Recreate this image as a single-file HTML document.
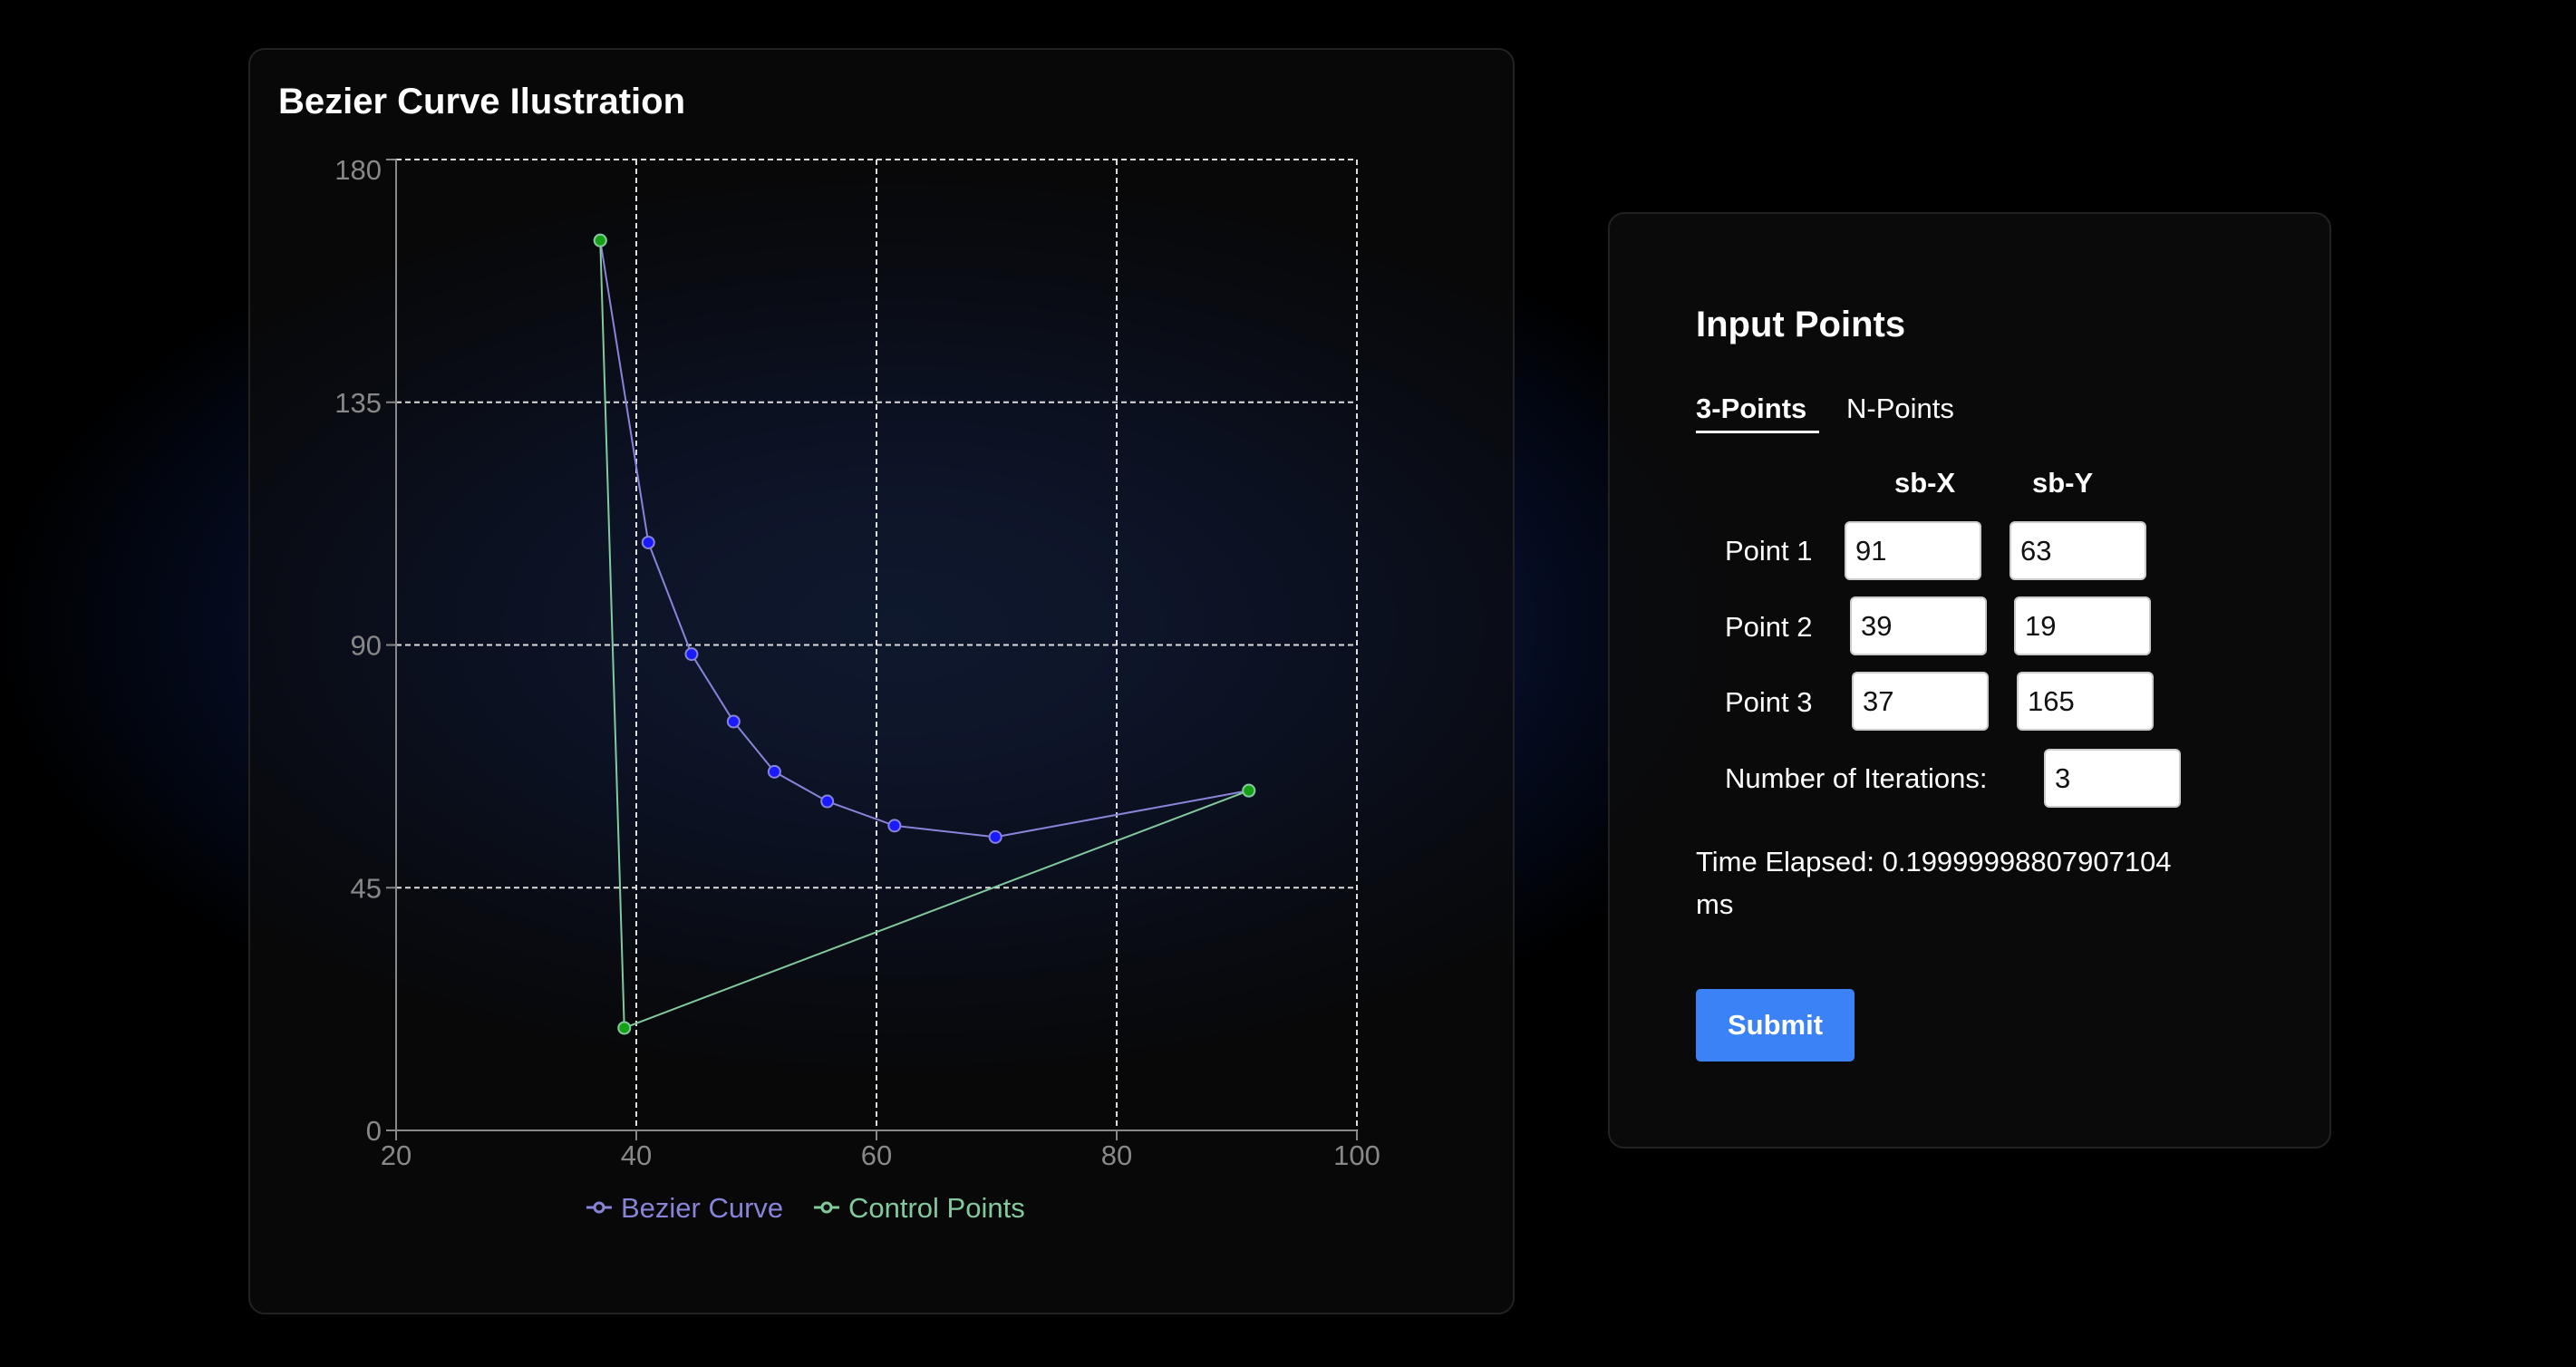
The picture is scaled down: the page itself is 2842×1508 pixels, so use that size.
<!DOCTYPE html>
<html><head><meta charset="utf-8"><style>
*{box-sizing:border-box;margin:0;padding:0}
html,body{width:2842px;height:1508px;overflow:hidden}
body{background:#000;font-family:"Liberation Sans",sans-serif;position:relative;
background:radial-gradient(ellipse 1000px 520px at 990px 690px,#132b62 0%,#102459 25%,#0a1740 50%,#040a1c 75%,#000 100%);}
.card{position:absolute;background:rgba(13,13,13,0.62);border:2px solid #222;border-radius:18px}
.t{position:absolute;color:#fff;white-space:nowrap}
.inp{position:absolute;background:#fff;border:2px solid #ccc;border-radius:6px;color:#111;font-size:31px;padding-left:10px;line-height:61px;height:65px;width:151px}
</style></head><body>
<div class="card" style="left:274px;top:53px;width:1397px;height:1397px"></div>
<div class="t" style="left:307px;top:90px;font-size:40px;font-weight:bold">Bezier Curve Ilustration</div>
<svg id="chart" width="2842" height="1508" style="position:absolute;left:0;top:0"></svg>

<div class="card" style="left:1774px;top:234px;width:798px;height:1033px;background:rgba(13,13,13,0.8)"></div>
<div class="t" style="left:1871px;top:336px;font-size:40px;font-weight:bold">Input Points</div>
<div class="t" style="left:1871px;top:433px;font-size:31px;font-weight:bold;border-bottom:3px solid #fff;padding-bottom:6px;width:136px">3-Points</div>
<div class="t" style="left:2037px;top:433px;font-size:31px">N-Points</div>
<div class="t" style="left:2090px;top:515px;font-size:31px;font-weight:bold">sb-X</div>
<div class="t" style="left:2242px;top:515px;font-size:31px;font-weight:bold">sb-Y</div>
<div class="t" style="left:1903px;top:590px;font-size:31px">Point 1</div>
<div class="inp" style="left:2035px;top:575px">91</div>
<div class="inp" style="left:2217px;top:575px">63</div>
<div class="t" style="left:1903px;top:674px;font-size:31px">Point 2</div>
<div class="inp" style="left:2041px;top:658px">39</div>
<div class="inp" style="left:2222px;top:658px">19</div>
<div class="t" style="left:1903px;top:757px;font-size:31px">Point 3</div>
<div class="inp" style="left:2043px;top:741px">37</div>
<div class="inp" style="left:2225px;top:741px">165</div>
<div class="t" style="left:1903px;top:841px;font-size:31px">Number of Iterations:</div>
<div class="inp" style="left:2255px;top:826px">3</div>
<div class="t" style="left:1871px;top:927px;font-size:31px;line-height:47px">Time Elapsed: 0.19999998807907104<br>ms</div>
<div class="t" style="left:1871px;top:1091px;width:175px;height:80px;background:#3b82f6;border-radius:5px;font-size:31px;font-weight:bold;text-align:center;line-height:80px">Submit</div>

<script>
const xTicks=[20,40,60,80,100];
const yTicks=[0,45,90,135,180];
const bezierX=[37,41,44.6,48.1,51.5,55.9,61.5,69.9,91];
const bezierY=[165,109,88.3,75.8,66.5,61,56.5,54.4,63];
const controlX=[37,39,91];
const controlY=[165,19,63];
const svg=document.getElementById('chart');
const NS='http://www.w3.org/2000/svg';
const X0=437,X1=1497,Y0=1247,Y1=176;
const sx=v=>X0+(v-20)/80*(X1-X0);
const sy=v=>Y0-(v/180)*(Y0-Y1);
function mk(tag,attrs,parent){const e=document.createElementNS(NS,tag);for(const k in attrs)e.setAttribute(k,attrs[k]);(parent||svg).appendChild(e);return e;}
xTicks.forEach(v=>{
  if(v!==20){const g=mk('line',{x1:sx(v),x2:sx(v),y1:Y1,y2:Y0,stroke:'#ddd','stroke-width':2,'stroke-dasharray':'6 4'});
  
  }
  const tk=mk('line',{x1:sx(v),x2:sx(v),y1:Y0,y2:Y0+11,stroke:'#888','stroke-width':2});
  
  
  const t=mk('text',{x:sx(v),y:Y0+38,'text-anchor':'middle',fill:'#888','font-size':31,'font-family':'Liberation Sans'});
  t.textContent=v;
  
  
});
yTicks.forEach(v=>{
  if(v!==0){const g=mk('line',{x1:X0,x2:X1,y1:sy(v),y2:sy(v),stroke:'#ddd','stroke-width':2,'stroke-dasharray':'6 4'});
  
  }
  const tk=mk('line',{x1:X0-11,x2:X0,y1:sy(v),y2:sy(v),stroke:'#888','stroke-width':2});
  
  
  const t=mk('text',{x:X0-16,y:sy(v)+(v===180?22:11),'text-anchor':'end',fill:'#888','font-size':31,'font-family':'Liberation Sans'});
  t.textContent=v;
  
  
});
const ax=mk('line',{x1:X0,x2:X1,y1:Y0,y2:Y0,stroke:'#888','stroke-width':2});


const ay=mk('line',{x1:X0,x2:X0,y1:Y1,y2:Y0,stroke:'#888','stroke-width':2});


function series(xs,ys,color,name){
  const pts=xs.map((x,i)=>sx(x)+','+sy(ys[i])).join(' ');
  const l=mk('polyline',{points:pts,fill:'none',stroke:color,'stroke-width':2});
  
  
  return l;
}
function dots(xs,ys,fill,stroke,name){
  xs.forEach((x,i)=>{const c=mk('circle',{cx:sx(x),cy:sy(ys[i]),r:6.5,fill:fill,stroke:stroke,'stroke-width':2});
  
  });
}
series(bezierX,bezierY,'#8884d8','bezier-curve');
series(controlX,controlY,'#82ca9d','control-points');
dots(bezierX,bezierY,'#1a1aff','#8884d8','bezier-curve');
dots(controlX,controlY,'#16a016','#82ca9d','control-points');
function legend(x,color,label,name){
  const g=mk('g',{});
  
  
  mk('line',{x1:x,x2:x+28,y1:1332,y2:1332,stroke:color,'stroke-width':3},g);
  mk('circle',{cx:x+14,cy:1332,r:5,fill:'#0d0d0d',stroke:color,'stroke-width':3},g);
  const t=mk('text',{x:x+38,y:1343,fill:color,'font-size':31,'font-family':'Liberation Sans'},g);
  t.textContent=label;
}
legend(647,'#8884d8','Bezier Curve','legend-bezier-curve');
legend(898,'#82ca9d','Control Points','legend-control-points');
</script>
</body></html>
